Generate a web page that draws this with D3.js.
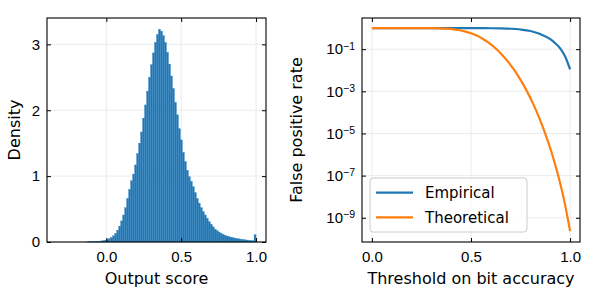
<!DOCTYPE html>
<html>
<head>
<meta charset="utf-8">
<script src="https://cdn.jsdelivr.net/npm/d3@7"></script>
<style>
  body { margin: 0; background: #fff; }
  svg { display: block; font-family: "DejaVu Sans", sans-serif; }
  .tick line { stroke: #000; }
  .domain { display: none; }
</style>
</head>
<body>
<div id="chart"></div>
<script>
// histogram: 100 bins from -0.33 to 1.0
const binStart = -0.33;
const binEnd = 1.0;
const density = [
  0, 0, 0, 0, 0, 0, 0, 0, 0, 0,
  0, 0, 0, 0, 0, 0.002, 0.003, 0.004, 0.005, 0.007,
  0.009, 0.012, 0.016, 0.021, 0.028, 0.037, 0.05, 0.07, 0.095, 0.13,
  0.18, 0.24, 0.32, 0.41, 0.52, 0.66, 0.80, 0.93, 1.03, 1.17,
  1.34, 1.50, 1.67, 1.88, 2.08, 2.29, 2.50, 2.69, 2.87, 3.03,
  3.15, 3.23, 3.20, 3.13, 3.03, 2.88, 2.70, 2.52, 2.33, 2.12,
  1.93, 1.72, 1.55, 1.36, 1.22, 1.09, 0.99, 0.92, 0.84, 0.75,
  0.66, 0.59, 0.52, 0.46, 0.41, 0.36, 0.31, 0.27, 0.23, 0.195,
  0.17, 0.15, 0.13, 0.115, 0.10, 0.09, 0.08, 0.072, 0.065, 0.058,
  0.052, 0.047, 0.042, 0.037, 0.033, 0.029, 0.025, 0.021, 0.018, 0.11
];
const histXTicks = [0.0, 0.5, 1.0];
const histYTicks = [0, 1, 2, 3];

// false positive rate vs threshold
const empThresholds = [0, 0.1, 0.2, 0.3, 0.4, 0.5, 0.55, 0.6, 0.65, 0.7, 0.75, 0.8, 0.85, 0.9, 0.925, 0.95, 0.975, 1.0];
const empirical = [1, 1, 1, 1, 1, 0.995, 0.99, 0.985, 0.97, 0.935, 0.86, 0.73, 0.52, 0.3, 0.19, 0.11, 0.045, 0.011];
const theoThresholds = d3.range(33).map(k => k / 32);
const theoretical = [
  1, 1, 1, 1, 1, 1, 1, 1, 1, 0.9965,
  0.990, 0.975, 0.945, 0.892, 0.8115, 0.7017, 0.570, 0.430, 0.298, 0.1885,
  0.1077, 0.0551, 0.02505, 0.01003, 0.0035, 0.00105, 2.675e-4, 5.65e-5, 9.65e-6, 1.28e-6,
  1.23e-7, 7.68e-9, 2.33e-10
];
const fprXTicks = [0.0, 0.5, 1.0];
const fprYTicks = [1e-1, 1e-3, 1e-5, 1e-7, 1e-9];

const W = 592, H = 308;
const svg = d3.select("#chart").append("svg").attr("width", W).attr("height", H);

const blue = "#1f77b4", orange = "#ff7f0e", gridCol = "#ebebeb";

function drawGrid(g, x, y, xt, yt, left, top, right, bottom) {
  g.append("g").selectAll("line").data(xt).join("line")
    .attr("x1", d => x(d)).attr("x2", d => x(d)).attr("y1", top).attr("y2", bottom)
    .attr("stroke", gridCol).attr("stroke-width", 1);
  g.append("g").selectAll("line").data(yt).join("line")
    .attr("x1", left).attr("x2", right).attr("y1", d => y(d)).attr("y2", d => y(d))
    .attr("stroke", gridCol).attr("stroke-width", 1);
}

function drawTicks(g, x, y, xt, yt, xfmt, yfmt, left, top, right, bottom) {
  g.append("g").attr("transform", `translate(0,${bottom})`)
    .call(d3.axisBottom(x).tickValues(xt).tickSize(-4).tickPadding(9).tickFormat(xfmt))
    .call(s => s.selectAll("text").attr("font-size", 15).attr("fill", "#000"));
  g.append("g").attr("transform", `translate(0,${top})`)
    .call(d3.axisTop(x).tickValues(xt).tickSize(-4).tickFormat(""));
  const ya = g.append("g").attr("transform", `translate(${left},0)`)
    .call(d3.axisLeft(y).tickValues(yt).tickSize(-4).tickPadding(7).tickFormat(yfmt));
  ya.selectAll("text").attr("font-size", 15).attr("fill", "#000");
  g.append("g").attr("transform", `translate(${right},0)`)
    .call(d3.axisRight(y).tickValues(yt).tickSize(-4).tickFormat(""));
  g.append("rect").attr("x", left).attr("y", top)
    .attr("width", right - left).attr("height", bottom - top)
    .attr("fill", "none").attr("stroke", "#000").attr("stroke-width", 1.1);
  return ya;
}

// ---------- left panel: histogram ----------
{
  const left = 47, right = 266, top = 18, bottom = 242;
  const span = binEnd - binStart;
  const x = d3.scaleLinear().domain([binStart - 0.05 * span, binEnd + 0.05 * span]).range([left, right]);
  const y = d3.scaleLinear().domain([0, 3.40]).range([bottom, top]);
  const bw = span / density.length;
  const g = svg.append("g");
  drawGrid(g, x, y, histXTicks, histYTicks, left, top, right, bottom);

  g.append("g").selectAll("rect").data(density).join("rect")
    .attr("x", (d, i) => x(binStart + i * bw))
    .attr("y", d => y(d))
    .attr("width", (d, i) => x(binStart + (i + 1) * bw) - x(binStart + i * bw))
    .attr("height", d => y(0) - y(d))
    .attr("fill", blue)
    .attr("stroke", "#3584bd")
    .attr("stroke-width", 0.35);

  drawTicks(g, x, y, histXTicks, histYTicks, d3.format(".1f"), d3.format("d"), left, top, right, bottom);

  g.append("text").attr("x", (left + right) / 2).attr("y", 284)
    .attr("text-anchor", "middle").attr("font-size", 16).text("Output score");
  g.append("text").attr("transform", `translate(20,${(top + bottom) / 2}) rotate(-90)`)
    .attr("text-anchor", "middle").attr("font-size", 16).text("Density");
}

// ---------- right panel: false positive rate ----------
{
  const left = 362, right = 580, top = 18, bottom = 242;
  const x = d3.scaleLinear().domain([-0.05, 1.05]).range([left, right]);
  const y = d3.scaleLog().domain([Math.pow(10, -10.15), Math.pow(10, 0.48)]).range([bottom, top]);
  const g = svg.append("g");
  drawGrid(g, x, y, fprXTicks, fprYTicks, left, top, right, bottom);

  const line = d3.line().x(d => x(d[0])).y(d => y(d[1])).curve(d3.curveMonotoneX);
  g.append("path").datum(d3.zip(empThresholds, empirical))
    .attr("d", line).attr("fill", "none").attr("stroke", blue).attr("stroke-width", 2.2);
  g.append("path").datum(d3.zip(theoThresholds, theoretical))
    .attr("d", line).attr("fill", "none").attr("stroke", orange).attr("stroke-width", 2.2);

  const ya = drawTicks(g, x, y, fprXTicks, fprYTicks, d3.format(".1f"), () => "", left, top, right, bottom);
  ya.selectAll(".tick").each(function (d) {
    const t = d3.select(this).select("text");
    t.text(null).attr("x", -7).attr("dy", "0.32em");
    t.append("tspan").text("10");
    t.append("tspan").attr("dy", "-0.45em").attr("font-size", 10.5).text("\u2212" + Math.round(-Math.log10(d)));
  });

  // legend
  const lg = g.append("g");
  lg.append("rect").attr("x", 370).attr("y", 178).attr("width", 157).attr("height", 54)
    .attr("rx", 3).attr("fill", "rgba(255,255,255,0.8)").attr("stroke", "#cccccc").attr("stroke-width", 1);
  const items = [["Empirical", blue], ["Theoretical", orange]];
  items.forEach(([name, col], i) => {
    const yy = 192.7 + i * 24.6;
    lg.append("line").attr("x1", 376).attr("x2", 413).attr("y1", yy).attr("y2", yy)
      .attr("stroke", col).attr("stroke-width", 2.2);
    lg.append("text").attr("x", 425).attr("y", yy).attr("dy", "0.35em")
      .attr("font-size", 15).text(name);
  });

  g.append("text").attr("x", (left + right) / 2).attr("y", 284)
    .attr("text-anchor", "middle").attr("font-size", 16).text("Threshold on bit accuracy");
  g.append("text").attr("transform", `translate(302,${(top + bottom) / 2}) rotate(-90)`)
    .attr("text-anchor", "middle").attr("font-size", 16).text("False positive rate");
}
</script>
</body>
</html>
